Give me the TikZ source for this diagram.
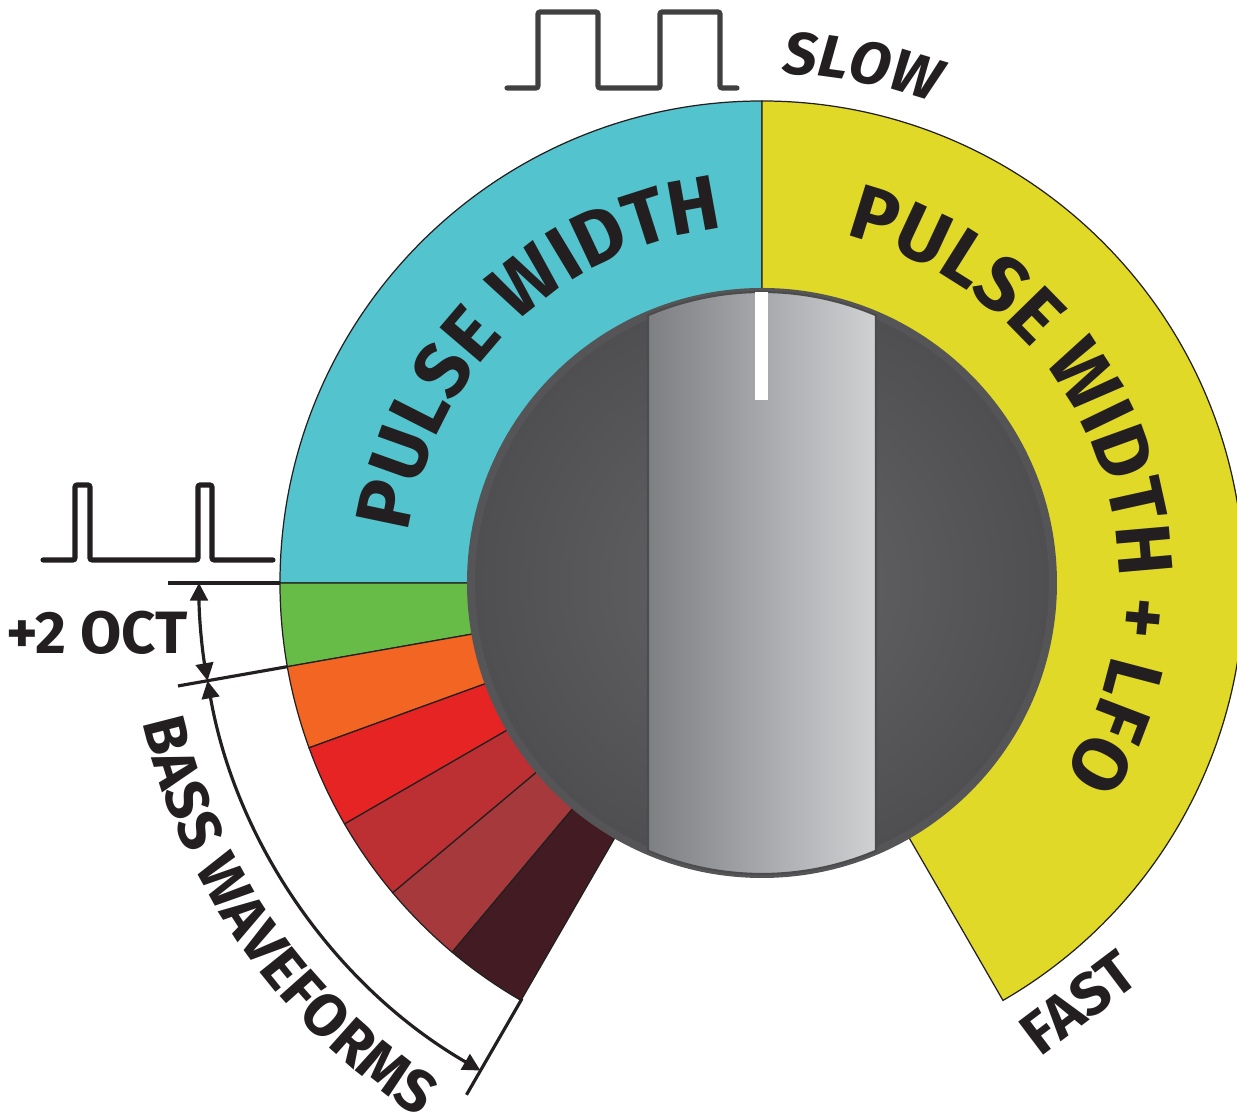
\documentclass[tikz,border=0pt]{standalone}
\usepackage{fontspec}
\setmainfont{Fira Sans}
\usetikzlibrary{arrows.meta,decorations.text}
\definecolor{pwcyan}{HTML}{53C4CE}
\definecolor{pwyellow}{HTML}{E1D928}
\definecolor{bassA}{HTML}{66BC46}
\definecolor{bassB}{HTML}{F26522}
\definecolor{bassC}{HTML}{E62424}
\definecolor{bassD}{HTML}{BC2F33}
\definecolor{bassE}{HTML}{A6393C}
\definecolor{bassF}{HTML}{421C22}
\definecolor{ink}{HTML}{231F20}
\definecolor{knobrim}{HTML}{555557}
\definecolor{knobmid}{HTML}{656567}
\definecolor{knobedge}{HTML}{4F4F51}
\definecolor{stripeleft}{HTML}{7E7F83}
\definecolor{striperight}{HTML}{D0D1D3}
\newcommand{\bigfont}{\bfseries\fontsize{22}{22}\selectfont}
\newcommand{\smallfont}{\bfseries\fontsize{17}{17}\selectfont}
\begin{document}
\begin{tikzpicture}[
    seg/.style={draw=ink, line width=0.35pt},
    dim/.style={draw=ink, line width=0.9pt},
    dimarrow/.style={dim, {Triangle[length=5pt,width=5pt]}-{Triangle[length=5pt,width=5pt]}},
    wave/.style={line width=1.45pt, line cap=round, rounded corners=0.6pt},
    dialtext/.style={font=\smallfont, text=ink, inner sep=0pt}
]
    \useasboundingbox (-7.62,-5.32) rectangle (4.75,5.83);
    % ring
    \filldraw[seg, fill=pwcyan](0,0)--(180:4.82)arc(180:90:4.82)--cycle;
    \filldraw[seg, fill=pwyellow](0,0)--(90:4.82)arc(90:-60:4.82)--cycle;
    \foreach \a/\c in {180/bassA,190/bassB,200/bassC,210/bassD,220/bassE,230/bassF}
        \filldraw[seg, fill=\c](0,0)--(\a:4.82)arc(\a:\a+10:4.82)--cycle;
    % knob
    \fill[knobrim](0,0)circle(2.95);
    \shade[inner color=knobmid, outer color=knobedge](0,0)circle(2.87);
    \shade[left color=stripeleft, right color=striperight, draw=black!70, line width=0.6pt]
        (113.07:2.91)arc(113.07:66.93:2.91)--(-66.93:2.91)arc(-66.93:-113.07:2.91)--cycle;
    \fill[white](-0.065,1.83)rectangle(0.065,2.91);
    % dimensions
    \draw[dim](180:4.82)--(180:5.94);
    \draw[dim](190:4.82)--(190:5.93);
    \draw[dim](240:4.80)--(240:5.91);
    \draw[dimarrow](180:5.63)arc(180:190:5.63);
    \draw[dimarrow](190:5.63)arc(190:240:5.63);
    % waves
    \draw[wave, black!75](-2.55,4.95)--(-2.24,4.95)--(-2.24,5.71)--(-1.64,5.71)--(-1.64,4.95)
        --(-1.02,4.95)--(-1.02,5.71)--(-0.42,5.71)--(-0.42,4.95)--(-0.25,4.95);
    \draw[wave, ink](-7.19,0.23)--(-6.87,0.23)--(-6.87,0.98)--(-6.72,0.98)--(-6.72,0.23)
        --(-5.64,0.23)--(-5.64,0.98)--(-5.50,0.98)--(-5.50,0.23)--(-4.89,0.23);
    % texts
    \path[decorate, decoration={text along path, text align=center, text color=ink,
        text={|\bigfont|PULSE WIDTH}}](179:3.57)arc(179:89:3.57);
    \path[decorate, decoration={text along path, text align=center, text color=ink,
        text={|\bigfont|PULSE WIDTH + LFO}}](92:3.57)arc(92:-48:3.57);
    \path[decorate, decoration={text along path, text align=center, text color=ink,
        text={|\smallfont\itshape|SLOW}}](99:5.10)arc(99:59:5.10);
    \path[decorate, decoration={text along path, text align=center, text color=ink,
        text={|\smallfont|BASS WAVEFORMS}}](180:6.35)arc(180:250:6.35);
    \node[dialtext](oct)at(-6.65,-0.50){+2 OCT};
    \node[dialtext, rotate=37](fast)at(-53:5.26){FAST};
\end{tikzpicture}
\end{document}
